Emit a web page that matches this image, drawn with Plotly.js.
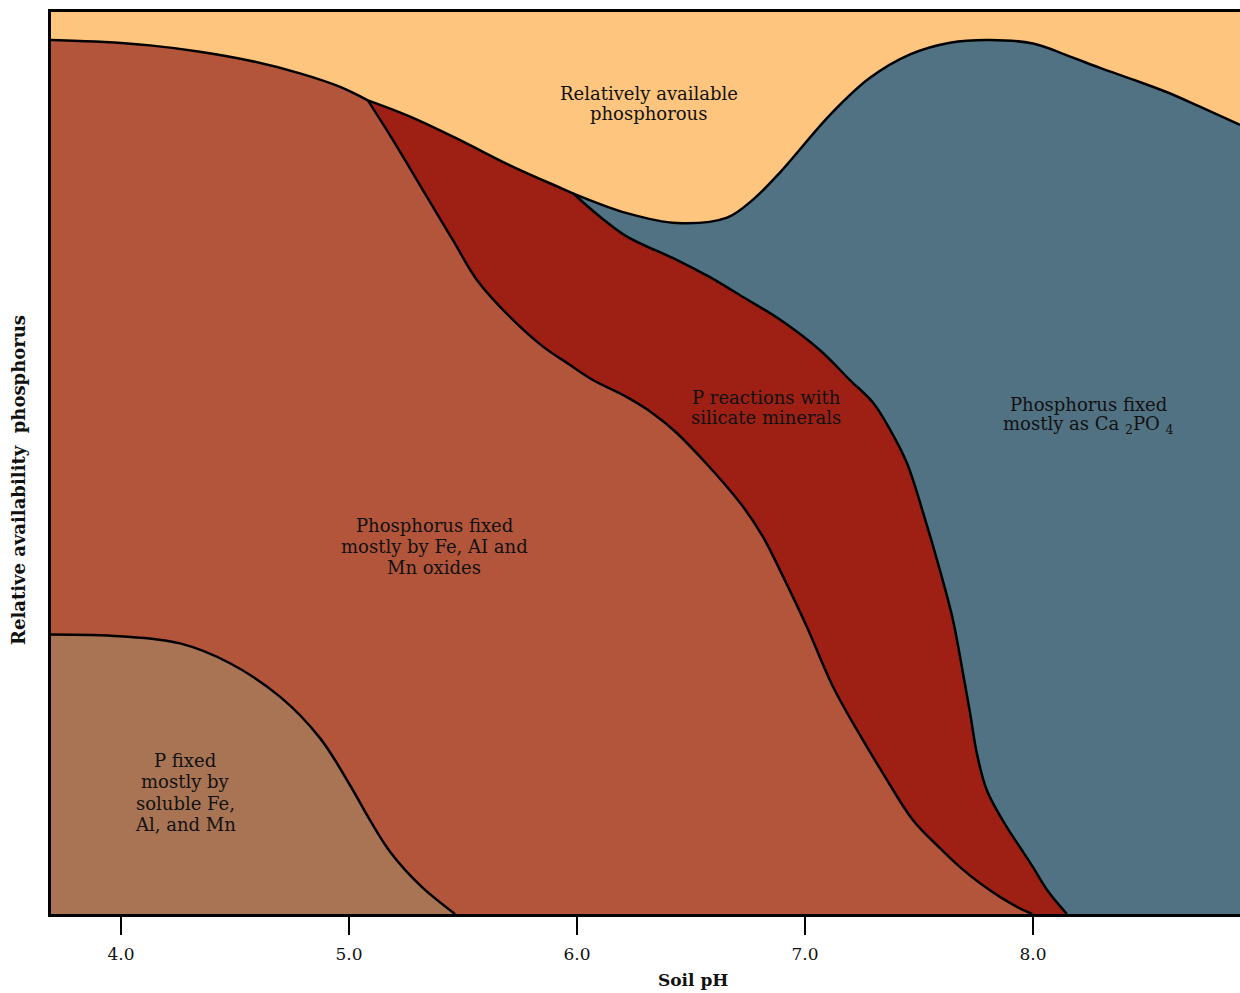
<!DOCTYPE html>
<html>
<head>
<meta charset="utf-8">
<script src="https://cdn.plot.ly/plotly-3.0.1.min.js"></script>
<style>html,body{margin:0;padding:0;background:#fff;}#chart{width:1240px;height:993px;}</style>
</head>
<body>
<div id="chart"></div>
<script>
// Soil pH tick values and labels
const tickVals = [4, 5, 6, 7, 8];
const tickLabels = ['4.0', '5.0', '6.0', '7.0', '8.0'];

// Boundary curves (x = soil pH, y = relative availability, 0-100)
// Upper-left boundary (oxides region top, shared)
const topLeftX = [3.693, 3.908, 4.127, 4.346, 4.566, 4.785, 4.961, 5.083];
const topLeftY = [96.9, 96.7, 96.3, 95.6, 94.6, 93.2, 91.7, 90.2];
// Silicate region top (orange / dark red)
const silTopX = [5.083, 5.268, 5.487, 5.706, 5.982];
const silTopY = [90.2, 88.4, 85.8, 83.0, 79.9];
// Ca-phosphate region top (orange / blue)
const caTopX = [5.982, 6.219, 6.439, 6.658, 6.772, 6.890, 7.110, 7.285, 7.461, 7.636, 7.811, 8.0, 8.149, 8.294, 8.439, 8.588, 8.732, 8.908];
const caTopY = [79.9, 77.7, 76.6, 77.2, 79.2, 82.2, 88.6, 92.7, 95.3, 96.6, 96.9, 96.5, 95.2, 93.8, 92.5, 91.1, 89.5, 87.5];
// Oxides / silicate boundary
const oxideX = [5.083, 5.193, 5.342, 5.456, 5.561, 5.706, 5.851, 5.956, 6.070, 6.219, 6.333, 6.439, 6.715, 6.816, 6.904, 7.009, 7.123, 7.228, 7.342, 7.474, 7.592, 7.680, 7.768, 7.855, 7.930, 7.996];
const oxideY = [90.2, 85.8, 79.5, 74.7, 70.3, 66.2, 62.9, 61.1, 59.2, 57.3, 55.5, 53.3, 45.6, 41.8, 37.4, 31.8, 25.2, 20.4, 15.6, 10.4, 7.3, 5.2, 3.4, 1.9, 0.8, 0];
// Silicate / Ca-phosphate boundary
const silicateX = [5.982, 6.101, 6.219, 6.439, 6.583, 6.728, 6.890, 7.066, 7.197, 7.298, 7.373, 7.447, 7.518, 7.592, 7.649, 7.693, 7.724, 7.754, 7.798, 7.886, 7.943, 8.0, 8.061, 8.149];
const silicateY = [79.9, 77.3, 75.1, 72.5, 70.6, 68.4, 65.9, 62.5, 59.2, 56.7, 53.7, 50.0, 44.5, 38.1, 32.6, 26.7, 22.3, 17.8, 13.7, 9.6, 7.4, 5.2, 2.7, 0];
// Soluble Fe/Al/Mn region top
const solubleX = [3.693, 3.996, 4.259, 4.478, 4.697, 4.873, 5.004, 5.092, 5.180, 5.311, 5.465];
const solubleY = [31.0, 30.8, 30.0, 27.8, 24.1, 19.5, 14.3, 10.4, 6.9, 3.2, 0];

// Region labels, one entry per text line
const labelLines = [
  'Relatively available', 'phosphorous',
  'P reactions with', 'silicate minerals',
  'Phosphorus fixed', 'mostly as Ca <sub>2</sub>PO <sub>4</sub>',
  'Phosphorus fixed', 'mostly by Fe, AI and', 'Mn oxides',
  'P fixed', 'mostly by', 'soluble Fe,', 'Al, and Mn'
];

const C_ORANGE = '#FDC57D';
const C_BLUE = '#517283';
const C_DARKRED = '#9E2015';
const C_BROWN = '#B3553A';
const C_LIGHTBROWN = '#A97454';

function cat(a, b) { return a.concat(b.slice(1)); }
function fillTrace(x, y, color) {
  return {x: x, y: y, type: 'scatter', mode: 'lines', fill: 'tozeroy', fillcolor: color,
    line: {width: 0, shape: 'spline', smoothing: 1, color: color}, hoverinfo: 'skip', showlegend: false};
}
function lineTrace(x, y) {
  return {x: x, y: y, type: 'scatter', mode: 'lines',
    line: {width: 2.5, shape: 'spline', smoothing: 1, color: '#000'}, hoverinfo: 'skip', showlegend: false};
}

const traces = [
  fillTrace(cat(cat(topLeftX, silTopX), caTopX), cat(cat(topLeftY, silTopY), caTopY), C_BLUE),
  fillTrace(cat(cat(topLeftX, silTopX), silicateX), cat(cat(topLeftY, silTopY), silicateY), C_DARKRED),
  fillTrace(cat(topLeftX, oxideX), cat(topLeftY, oxideY), C_BROWN),
  fillTrace(solubleX, solubleY, C_LIGHTBROWN),
  lineTrace(topLeftX, topLeftY),
  lineTrace(silTopX, silTopY),
  lineTrace(caTopX, caTopY),
  lineTrace(oxideX, oxideY),
  lineTrace(silicateX, silicateY),
  lineTrace(solubleX, solubleY)
];

const FONT = 'DejaVu Serif';
const labelFont = {family: FONT, size: 18, color: '#111'};

// label line placement (pixel centres in the 1240x993 frame)
const PL = 51, PW = 1189, PB = 914, PH = 902;
const linePos = [
  [649, 93], [649, 114],
  [766, 397], [766, 418],
  [1088, 404], [1088, 425],
  [434, 525], [434, 546], [434, 567],
  [185, 760], [185, 781], [185, 803], [185, 824]
];
const annotations = labelLines.map((t, i) => ({
  x: (linePos[i][0] - PL) / PW, y: (PB - linePos[i][1]) / PH, xref: 'paper', yref: 'paper',
  text: t, showarrow: false, font: labelFont, xanchor: 'center', yanchor: 'middle'
}));
annotations.push(
  {x: (693 - PL) / PW, y: (PB - 980) / PH, xref: 'paper', yref: 'paper', text: '<b>Soil pH</b>', showarrow: false,
    font: {family: FONT, size: 17, color: '#111'}, xanchor: 'center', yanchor: 'middle'},
  {x: (19 - PL) / PW, y: (PB - 480) / PH, xref: 'paper', yref: 'paper', text: '<b>Relative availability\u00a0 phosphorus</b>', showarrow: false,
    textangle: -90, font: {family: FONT, size: 18, color: '#111'}, xanchor: 'center', yanchor: 'middle'}
);

const layout = {
  width: 1240, height: 993,
  margin: {l: 51, r: 0, t: 12, b: 79},
  paper_bgcolor: '#fff',
  plot_bgcolor: C_ORANGE,
  showlegend: false,
  xaxis: {
    range: [3.693, 8.908], tickvals: tickVals, ticktext: tickLabels,
    ticks: 'outside', ticklen: 18, tickwidth: 2, tickcolor: '#000',
    ticklabelstandoff: 5,
    showline: true, linewidth: 3, linecolor: '#000', mirror: true,
    showgrid: false, zeroline: false,
    tickfont: {family: FONT, size: 17, color: '#111'}
  },
  yaxis: {
    range: [0, 100], showticklabels: false, ticks: '',
    showline: true, linewidth: 3, linecolor: '#000',
    showgrid: false, zeroline: false
  },
  annotations: annotations
};

Plotly.newPlot('chart', traces, layout, {displayModeBar: false, staticPlot: true});
</script>
</body>
</html>
